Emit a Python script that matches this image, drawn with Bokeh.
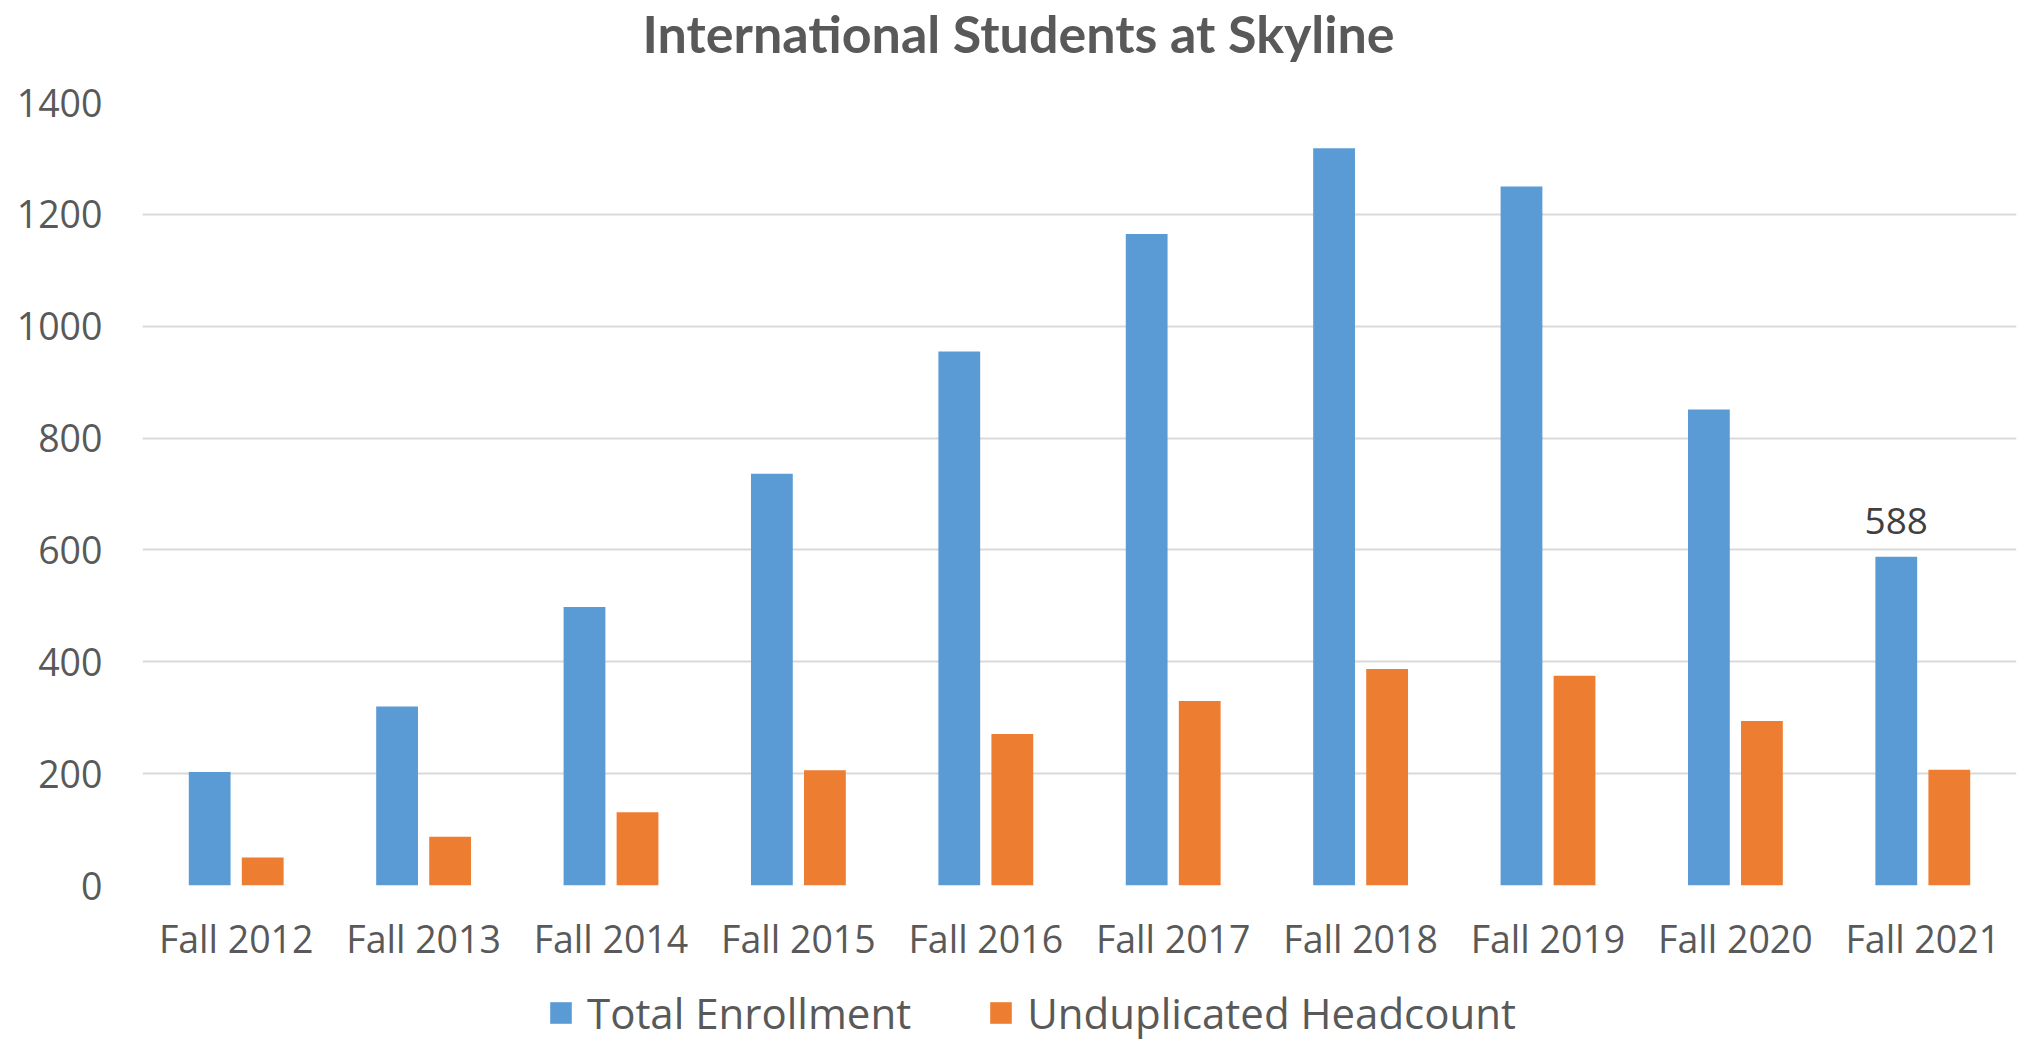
from bokeh.plotting import figure
from bokeh.layouts import column
from bokeh.models import (ColumnDataSource, FactorRange, Range1d, Legend, LegendItem,
                          LabelSet, Label, FixedTicker)
from bokeh.transform import dodge
from bokeh.core.properties import value
from bokeh.embed import file_html
from bokeh.resources import INLINE

title_text = "International Students at Skyline"
terms = ["Fall 2012", "Fall 2013", "Fall 2014", "Fall 2015", "Fall 2016",
         "Fall 2017", "Fall 2018", "Fall 2019", "Fall 2020", "Fall 2021"]
total_enrollment = [203, 320, 498, 736, 955, 1165, 1318, 1250, 851, 588]
unduplicated_headcount = [50, 87, 131, 206, 271, 330, 387, 375, 294, 207]
y_ticks = [0, 200, 400, 600, 800, 1000, 1200, 1400]
series_names = ["Total Enrollment", "Unduplicated Headcount"]

BLUE = "#5B9BD5"
ORANGE = "#ED7D31"
GRAY = "#595959"
W = 2020

src = ColumnDataSource(data=dict(term=terms, total=total_enrollment, undup=unduplicated_headcount))
x_range = FactorRange(*terms)


def bare(fig):
    fig.outline_line_color = None
    fig.xgrid.grid_line_color = None
    fig.ygrid.grid_line_color = None
    fig.background_fill_color = "white"
    fig.border_fill_color = "white"


# ---- title strip ----
pt = figure(width=W, height=72, x_range=Range1d(0, 1), y_range=Range1d(0, 1), title=None,
            output_backend="svg", toolbar_location=None,
            x_axis_type=None, y_axis_type=None, min_border=0)
bare(pt)
pt.add_layout(Label(x=0.4675, y=0.554, text=title_text, text_align="center",
                    text_baseline="alphabetic", text_font="Lato", text_font_style="bold",
                    text_font_size="52px", text_color=GRAY))

# ---- main chart ----
p = figure(x_range=x_range, y_range=(0, 1400), width=W, height=903, title=None,
           output_backend="svg", toolbar_location=None,
           min_border_left=142, min_border_right=4, min_border_top=30, min_border_bottom=90)

r1 = p.vbar(x=dodge("term", -0.1415, range=x_range), top="total", width=0.223,
            source=src, color=BLUE, line_color=None)
r2 = p.vbar(x=dodge("term", 0.1415, range=x_range), top="undup", width=0.223,
            source=src, color=ORANGE, line_color=None)

lbl_src = ColumnDataSource(data=dict(term=[terms[-1]], val=[total_enrollment[-1]],
                                     txt=[str(total_enrollment[-1])]))
p.add_layout(LabelSet(x=dodge("term", -0.1415, range=x_range), y="val", text="txt", source=lbl_src,
                      text_align="center", text_baseline="alphabetic", y_offset=23,
                      text_font=value("Open Sans"), text_font_size="37px", text_color="#404040"))

p.outline_line_color = None
p.background_fill_color = "white"
p.border_fill_color = "white"
p.xgrid.grid_line_color = None
p.ygrid.grid_line_color = "#d9d9d9"
p.ygrid.grid_line_width = 2
p.yaxis.ticker = FixedTicker(ticks=y_ticks)

for ax in (p.xaxis[0], p.yaxis[0]):
    ax.axis_line_color = None
    ax.major_tick_line_color = None
    ax.minor_tick_line_color = None
    ax.major_tick_in = 0
    ax.major_tick_out = 0
    ax.minor_tick_in = 0
    ax.minor_tick_out = 0
    ax.major_label_text_font = "Open Sans"
    ax.major_label_text_font_size = "37.5px"
    ax.major_label_text_color = GRAY

p.yaxis.major_label_standoff = 40
p.xaxis.major_label_standoff = 27

# ---- legend strip (its bars lie far outside its visible y-range) ----
pl = figure(width=W, height=66, x_range=x_range, y_range=Range1d(10000, 10001), title=None,
            output_backend="svg", toolbar_location=None,
            x_axis_type=None, y_axis_type=None, min_border=0)
bare(pl)
k1 = pl.vbar(x=dodge("term", -0.1415, range=x_range), top="total", width=0.223,
             source=src, color=BLUE, line_color=None)
k2 = pl.vbar(x=dodge("term", 0.1415, range=x_range), top="undup", width=0.223,
             source=src, color=ORANGE, line_color=None)

legend = Legend(items=[LegendItem(label=series_names[0], renderers=[k1]),
                       LegendItem(label=series_names[1], renderers=[k2])],
                orientation="horizontal", location=(405, 0),
                glyph_width=27, glyph_height=27, label_standoff=13, spacing=76,
                padding=0, margin=0, border_line_color=None, background_fill_alpha=0,
                label_text_font="Open Sans", label_text_font_size="42px",
                label_text_color=GRAY)
pl.add_layout(legend, "center")

open("out.html", "w").write(file_html(column(pt, p, pl, spacing=0), INLINE))
